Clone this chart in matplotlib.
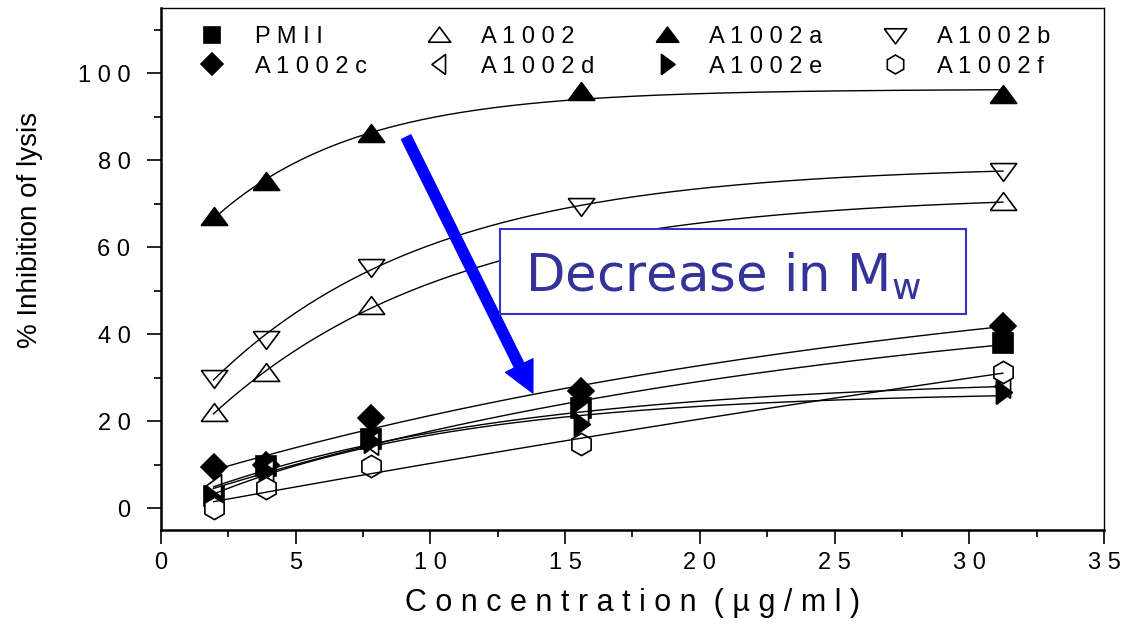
import numpy as np
import matplotlib.pyplot as plt
from matplotlib.path import Path
from matplotlib.patches import Rectangle

plt.rcParams['font.family'] = ['Liberation Sans', 'DejaVu Sans']

# concentrations (ug/ml) and % inhibition
conc = [1.95, 3.9, 7.8, 15.6, 31.25]
pmii = [2.8, 9.7, 16.0, 23.0, 38.0]
a1002 = [22.0, 31.0, 46.5, 61.0, 70.5]
a1002a = [67.0, 75.0, 86.0, 95.8, 95.0]
a1002b = [30.0, 39.0, 55.5, 69.5, 77.5]
a1002c = [9.4, 10.0, 20.7, 27.0, 42.0]
a1002d = [5.0, 8.5, 15.0, 22.0, 28.0]
a1002e = [2.3, 8.5, 15.5, 19.3, 26.7]
a1002f = [0.0, 4.6, 9.7, 14.7, 31.3]

names = ['PMII', 'A1002', 'A1002a', 'A1002b', 'A1002c', 'A1002d', 'A1002e', 'A1002f']
series = [pmii, a1002, a1002a, a1002b, a1002c, a1002d, a1002e, a1002f]

# flat triangles like the original software draws
tri_up = Path([(-1, -0.6), (1, -0.6), (0, 0.75), (-1, -0.6)])
tri_dn = Path([(-1, 0.6), (1, 0.6), (0, -0.75), (-1, 0.6)])
tri_lt = Path([(0.6, -1), (0.6, 1), (-0.75, 0), (0.6, -1)])
tri_rt = Path([(-0.6, -1), (-0.6, 1), (0.75, 0), (-0.6, -1)])

styles = [
    dict(marker='s', ms=14, mfc='black'),
    dict(marker=tri_up, ms=19, mfc='white'),
    dict(marker=tri_up, ms=19, mfc='black'),
    dict(marker=tri_dn, ms=19, mfc='white'),
    dict(marker='D', ms=13, mfc='black'),
    dict(marker=tri_lt, ms=17, mfc='white'),
    dict(marker=tri_rt, ms=17, mfc='black'),
    dict(marker='h', ms=16, mfc='white'),
]


def sat_fit(x, y, xs):
    # y = a + b*(1 - exp(-x/t)), best t by grid search
    x = np.asarray(x)
    y = np.asarray(y)
    best = None
    for t in np.concatenate([np.geomspace(1, 2000, 400), -np.geomspace(5, 2000, 200)]):
        basis = np.column_stack([np.ones_like(x), 1 - np.exp(-x / t)])
        coef = np.linalg.lstsq(basis, y, rcond=None)[0]
        err = np.sum((basis @ coef - y) ** 2)
        if best is None or err < best[0]:
            best = (err, t, coef)
    _, t, coef = best
    return coef[0] + coef[1] * (1 - np.exp(-xs / t))


fig = plt.figure(figsize=(11.21, 6.26), dpi=100)
ax = fig.add_axes([0.1436, 0.1534, 0.8412, 0.8338])

xs = np.linspace(min(conc), max(conc), 300)
handles = []
for name, y, st in zip(names, series, styles):
    h, = ax.plot(conc, y, ls='none', mec='black', mew=1.2, zorder=2,
                 label=' '.join(name), **st)
    handles.append(h)
    ax.plot(xs, sat_fit(conc, y, xs), color='black', lw=1.0, zorder=3)

# legend laid out row-wise like the original (matplotlib fills columns first)
order = [0, 4, 1, 5, 2, 6, 3, 7]
ax.legend([handles[i] for i in order], [handles[i].get_label() for i in order],
          ncol=4, frameon=False, loc='upper left', bbox_to_anchor=(0.017, 0.997),
          fontsize=17, markerscale=0.85, handlelength=1.6, handletextpad=1.0,
          columnspacing=2.25, labelspacing=0.32, borderaxespad=0.3)

# blue arrow and annotation box
ax.annotate('', xy=(13.8, 26.5), xytext=(9.1, 85.3),
            arrowprops=dict(arrowstyle='simple,head_length=2.2,head_width=2.2,tail_width=0.75',
                            color='#0000ff', mutation_scale=10, shrinkA=0, shrinkB=0),
            zorder=5)
ax.add_patch(Rectangle((12.58, 44.7), 17.3, 19.6, fc='white', ec='#3333cc', lw=1.5, zorder=6))
ax.text(13.5, 49.7, r'Decrease in M$_\mathrm{w}$', family='DejaVu Sans', fontsize=37,
        color='#333399', ha='left', va='baseline', zorder=7)

ax.set_xlim(0, 35)
ax.set_ylim(-5, 115)

xt = np.arange(0, 36, 5)
ax.set_xticks(xt)
ax.set_xticklabels([' '.join(str(v)) for v in xt], fontsize=17)
ax.set_xticks(np.arange(2.5, 35, 5), minor=True)
yt = np.arange(0, 101, 20)
ax.set_yticks(yt)
ax.set_yticklabels([' '.join(str(v)) for v in yt], fontsize=17)
ax.set_yticks(np.arange(10, 115, 20), minor=True)

ax.tick_params(which='major', direction='out', length=10, width=1.2, top=False, right=False)
ax.tick_params(which='minor', direction='out', length=5, width=1.2, top=False, right=False)
ax.tick_params(axis='x', pad=6)
ax.tick_params(axis='y', pad=12)
for side in ['left', 'bottom']:
    ax.spines[side].set_linewidth(1.8)
for side in ['top', 'right']:
    ax.spines[side].set_linewidth(1.0)

ax.set_xlabel(' '.join('Concentration') + '  ( \u00b5 g / m l )', fontsize=22, labelpad=10)
ax.set_ylabel('% Inhibition of lysis', fontsize=20)
ax.yaxis.set_label_coords(-0.125, 0.575)

fig.savefig('out.png', dpi=100)
